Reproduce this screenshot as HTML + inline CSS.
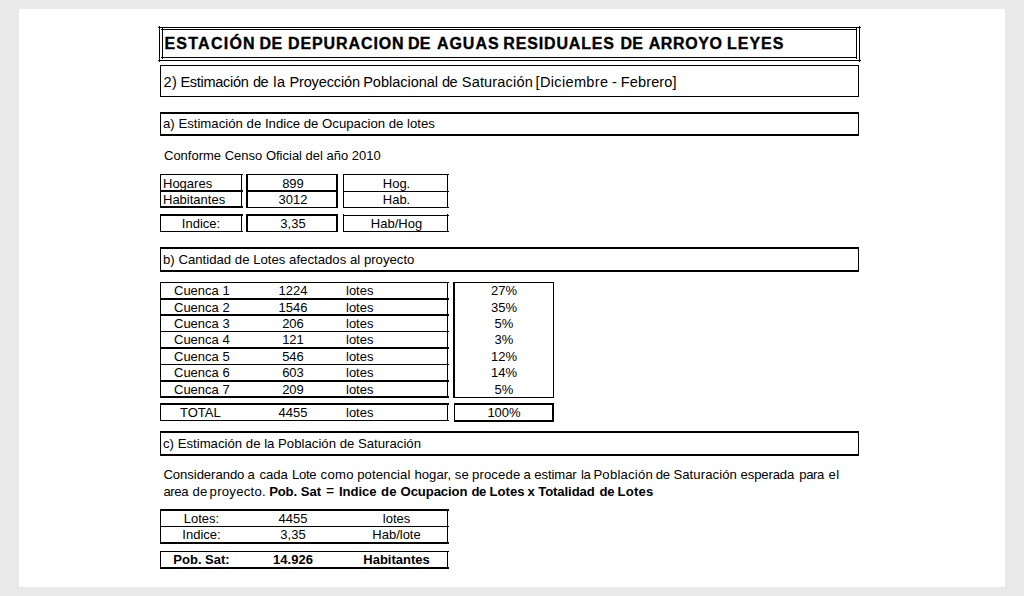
<!DOCTYPE html>
<html><head><meta charset="utf-8">
<style>
html,body{margin:0;padding:0;}
body{width:1024px;height:596px;background:#e9e9e9;position:relative;overflow:hidden;font-family:"Liberation Sans",sans-serif;color:#000;}
#page{position:absolute;left:19px;top:9px;width:986px;height:578px;background:#fff;}
.a{position:absolute;box-sizing:border-box;}
.l{position:absolute;background:#000;}
.t{position:absolute;white-space:pre;font-size:13px;line-height:15px;}
.c{text-align:center;}
.b{font-weight:bold;}
.tt{top:35px;font-size:16px;line-height:18px;-webkit-text-stroke:0.35px #000;}
</style></head><body>
<div id="page"></div>

<!-- Title double box -->
<div class="l" style="left:158px;top:27px;width:703px;height:1px;"></div>
<div class="l" style="left:158px;top:60px;width:703px;height:1px;"></div>
<div class="l" style="left:159px;top:26px;width:1px;height:36px;"></div>
<div class="l" style="left:859px;top:26px;width:1px;height:36px;"></div>
<div class="l" style="left:161px;top:29px;width:696px;height:1px;"></div>
<div class="l" style="left:161px;top:57px;width:696px;height:1px;"></div>
<div class="l" style="left:162px;top:28px;width:1px;height:31px;"></div>
<div class="l" style="left:856px;top:28px;width:1px;height:31px;"></div>
<div class="t b tt" style="left:164.4px;letter-spacing:1.25px;">ESTACIÓN</div>
<div class="t b tt" style="left:259.6px;letter-spacing:0.3px;">DE</div>
<div class="t b tt" style="left:288.0px;letter-spacing:0.9px;">DEPURACION</div>
<div class="t b tt" style="left:407.9px;letter-spacing:0.3px;">DE</div>
<div class="t b tt" style="left:436.9px;letter-spacing:0.99px;">AGUAS</div>
<div class="t b tt" style="left:503.3px;letter-spacing:0.84px;">RESIDUALES</div>
<div class="t b tt" style="left:620.5px;letter-spacing:0.3px;">DE</div>
<div class="t b tt" style="left:648.7px;letter-spacing:0.6px;">ARROYO</div>
<div class="t b tt" style="left:727.1px;letter-spacing:0.95px;">LEYES</div>

<!-- Box 2 -->
<div class="a" style="left:160px;top:65px;width:699px;height:32px;border:1px solid #000;"></div>
<!--T2-->
<div class="t" style="top:74px;font-size:14.55px;line-height:17px;left:163.60px;letter-spacing:0.200px;">2)</div>
<div class="t" style="top:74px;font-size:14.55px;line-height:17px;left:180.40px;letter-spacing:-0.289px;">Estimación</div>
<div class="t" style="top:74px;font-size:14.55px;line-height:17px;left:253.00px;letter-spacing:-0.700px;">de</div>
<div class="t" style="top:74px;font-size:14.55px;line-height:17px;left:273.20px;letter-spacing:0.500px;">la</div>
<div class="t" style="top:74px;font-size:14.55px;line-height:17px;left:289.40px;letter-spacing:-0.144px;">Proyección</div>
<div class="t" style="top:74px;font-size:14.55px;line-height:17px;left:363.20px;letter-spacing:-0.030px;">Poblacional</div>
<div class="t" style="top:74px;font-size:14.55px;line-height:17px;left:442.00px;letter-spacing:-0.700px;">de</div>
<div class="t" style="top:74px;font-size:14.55px;line-height:17px;left:461.80px;letter-spacing:0.156px;">Saturación</div>
<div class="t" style="top:74px;font-size:14.55px;line-height:17px;left:535.60px;letter-spacing:0.322px;">[Diciembre</div>
<div class="t" style="top:74px;font-size:14.55px;line-height:17px;left:612.00px;letter-spacing:0px;">-</div>
<div class="t" style="top:74px;font-size:14.55px;line-height:17px;left:620.80px;letter-spacing:0.114px;">Febrero]</div>
<!--/T2-->

<!-- Box a -->
<div class="a" style="left:160px;top:112px;width:699px;height:24px;border:1px solid #000;border-top-width:2px;border-bottom-width:2px;"></div>
<div class="t" style="left:163px;top:116px;font-size:13.2px;">a) Estimación de Indice de Ocupacion de lotes</div>

<div class="t" style="left:164px;top:148px;">Conforme Censo Oficial del año 2010</div>

<!-- Table 1 -->
<div class="l" style="left:160px;top:174px;width:83px;height:1px;"></div>
<div class="l" style="left:160px;top:190px;width:83px;height:2px;"></div>
<div class="l" style="left:160px;top:206px;width:83px;height:2px;"></div>
<div class="l" style="left:160px;top:174px;width:1px;height:34px;"></div>
<div class="l" style="left:241px;top:174px;width:1px;height:34px;"></div>
<div class="t" style="left:163px;top:176px;">Hogares</div>
<div class="t" style="left:163px;top:192px;">Habitantes</div>

<div class="l" style="left:246px;top:174px;width:92px;height:1px;"></div>
<div class="l" style="left:246px;top:190px;width:92px;height:2px;"></div>
<div class="l" style="left:246px;top:207px;width:92px;height:1px;"></div>
<div class="l" style="left:246px;top:174px;width:2px;height:34px;"></div>
<div class="l" style="left:336px;top:174px;width:2px;height:34px;"></div>
<div class="t c" style="left:249px;top:176px;width:88px;">899</div>
<div class="t c" style="left:249px;top:192px;width:88px;">3012</div>

<div class="l" style="left:343px;top:174px;width:106px;height:1px;"></div>
<div class="l" style="left:343px;top:191px;width:106px;height:1px;"></div>
<div class="l" style="left:343px;top:207px;width:106px;height:1px;"></div>
<div class="l" style="left:343px;top:174px;width:1px;height:34px;"></div>
<div class="l" style="left:447px;top:174px;width:1px;height:34px;"></div>
<div class="t c" style="left:345px;top:176px;width:103px;">Hog.</div>
<div class="t c" style="left:345px;top:192px;width:103px;">Hab.</div>

<div class="l" style="left:160px;top:214px;width:83px;height:2px;"></div>
<div class="l" style="left:160px;top:231px;width:83px;height:1px;"></div>
<div class="l" style="left:160px;top:214px;width:1px;height:18px;"></div>
<div class="l" style="left:241px;top:214px;width:1px;height:18px;"></div>
<div class="t c" style="left:161px;top:216px;width:80px;">Indice:</div>

<div class="l" style="left:246px;top:214px;width:92px;height:2px;"></div>
<div class="l" style="left:246px;top:231px;width:92px;height:1px;"></div>
<div class="l" style="left:246px;top:214px;width:2px;height:18px;"></div>
<div class="l" style="left:336px;top:214px;width:2px;height:18px;"></div>
<div class="t c" style="left:249px;top:216px;width:88px;">3,35</div>

<div class="l" style="left:343px;top:215px;width:106px;height:1px;"></div>
<div class="l" style="left:343px;top:231px;width:106px;height:1px;"></div>
<div class="l" style="left:343px;top:214px;width:1px;height:18px;"></div>
<div class="l" style="left:447px;top:214px;width:1px;height:18px;"></div>
<div class="t c" style="left:345px;top:216px;width:103px;">Hab/Hog</div>

<!-- Box b -->
<div class="a" style="left:160px;top:247px;width:699px;height:25px;border:1px solid #000;border-top-width:2px;border-bottom-width:2px;"></div>
<div class="t" style="left:163px;top:252px;font-size:13.2px;">b) Cantidad de Lotes afectados al proyecto</div>

<div class="l" style="left:160px;top:282px;width:289px;height:1px;"></div>
<div class="l" style="left:160px;top:298px;width:289px;height:2px;"></div>
<div class="l" style="left:160px;top:314px;width:289px;height:2px;"></div>
<div class="l" style="left:160px;top:331px;width:289px;height:1px;"></div>
<div class="l" style="left:160px;top:347px;width:289px;height:2px;"></div>
<div class="l" style="left:160px;top:364px;width:289px;height:1px;"></div>
<div class="l" style="left:160px;top:380px;width:289px;height:2px;"></div>
<div class="l" style="left:160px;top:396px;width:289px;height:2px;"></div>
<div class="l" style="left:160px;top:282px;width:1px;height:116px;"></div>
<div class="l" style="left:447px;top:282px;width:1px;height:116px;"></div>
<div class="l" style="left:160px;top:403px;width:289px;height:2px;"></div>
<div class="l" style="left:160px;top:420px;width:289px;height:1px;"></div>
<div class="l" style="left:160px;top:403px;width:1px;height:18px;"></div>
<div class="l" style="left:447px;top:403px;width:1px;height:18px;"></div>
<div class="l" style="left:453px;top:282px;width:101px;height:1px;"></div>
<div class="l" style="left:453px;top:397px;width:101px;height:1px;"></div>
<div class="l" style="left:453px;top:282px;width:2px;height:116px;"></div>
<div class="l" style="left:553px;top:282px;width:1px;height:116px;"></div>
<div class="l" style="left:454px;top:403px;width:100px;height:2px;"></div>
<div class="l" style="left:454px;top:420px;width:100px;height:2px;"></div>
<div class="l" style="left:454px;top:403px;width:1px;height:19px;"></div>
<div class="l" style="left:552px;top:403px;width:2px;height:19px;"></div>
<div class="t" style="left:174px;top:283px;">Cuenca 1</div>
<div class="t c" style="left:248px;top:283px;width:90px;">1224</div>
<div class="t" style="left:346px;top:283px;">lotes</div>
<div class="t c" style="left:455px;top:283px;width:98px;">27%</div>
<div class="t" style="left:174px;top:300px;">Cuenca 2</div>
<div class="t c" style="left:248px;top:300px;width:90px;">1546</div>
<div class="t" style="left:346px;top:300px;">lotes</div>
<div class="t c" style="left:455px;top:300px;width:98px;">35%</div>
<div class="t" style="left:174px;top:316px;">Cuenca 3</div>
<div class="t c" style="left:248px;top:316px;width:90px;">206</div>
<div class="t" style="left:346px;top:316px;">lotes</div>
<div class="t c" style="left:455px;top:316px;width:98px;">5%</div>
<div class="t" style="left:174px;top:332px;">Cuenca 4</div>
<div class="t c" style="left:248px;top:332px;width:90px;">121</div>
<div class="t" style="left:346px;top:332px;">lotes</div>
<div class="t c" style="left:455px;top:332px;width:98px;">3%</div>
<div class="t" style="left:174px;top:349px;">Cuenca 5</div>
<div class="t c" style="left:248px;top:349px;width:90px;">546</div>
<div class="t" style="left:346px;top:349px;">lotes</div>
<div class="t c" style="left:455px;top:349px;width:98px;">12%</div>
<div class="t" style="left:174px;top:365px;">Cuenca 6</div>
<div class="t c" style="left:248px;top:365px;width:90px;">603</div>
<div class="t" style="left:346px;top:365px;">lotes</div>
<div class="t c" style="left:455px;top:365px;width:98px;">14%</div>
<div class="t" style="left:174px;top:382px;">Cuenca 7</div>
<div class="t c" style="left:248px;top:382px;width:90px;">209</div>
<div class="t" style="left:346px;top:382px;">lotes</div>
<div class="t c" style="left:455px;top:382px;width:98px;">5%</div>
<div class="t" style="left:180px;top:405px;">TOTAL</div>
<div class="t c" style="left:248px;top:405px;width:90px;">4455</div>
<div class="t" style="left:346px;top:405px;">lotes</div>
<div class="t c" style="left:455px;top:405px;width:98px;">100%</div>

<!-- Box c -->
<div class="a" style="left:160px;top:431px;width:699px;height:25px;border:1px solid #000;border-top-width:2px;border-bottom-width:2px;"></div>
<div class="t" style="left:163px;top:436px;font-size:13.2px;">c) Estimación de la Población de Saturación</div>

<!--P1-->
<div class="t" style="top:467px;font-size:13.13px;line-height:15px;left:163.40px;letter-spacing:-0.064px;">Considerando</div>
<div class="t" style="top:467px;font-size:13.13px;line-height:15px;left:247.60px;letter-spacing:0.000px;">a</div>
<div class="t" style="top:467px;font-size:13.13px;line-height:15px;left:259.60px;letter-spacing:-0.067px;">cada</div>
<div class="t" style="top:467px;font-size:13.13px;line-height:15px;left:292.00px;letter-spacing:-0.350px;">Lote</div>
<div class="t" style="top:467px;font-size:13.13px;line-height:15px;left:320.60px;letter-spacing:0.300px;">como</div>
<div class="t" style="top:467px;font-size:13.13px;line-height:15px;left:357.20px;letter-spacing:0.087px;">potencial</div>
<div class="t" style="top:467px;font-size:13.13px;line-height:15px;left:414.40px;letter-spacing:0.060px;">hogar,</div>
<div class="t" style="top:467px;font-size:13.13px;line-height:15px;left:454.80px;letter-spacing:0.200px;">se</div>
<div class="t" style="top:467px;font-size:13.13px;line-height:15px;left:472.00px;letter-spacing:0.133px;">procede</div>
<div class="t" style="top:467px;font-size:13.13px;line-height:15px;left:523.60px;letter-spacing:0.000px;">a</div>
<div class="t" style="top:467px;font-size:13.13px;line-height:15px;left:534.20px;letter-spacing:-0.083px;">estimar</div>
<div class="t" style="top:467px;font-size:13.13px;line-height:15px;left:581.00px;letter-spacing:-0.350px;">la</div>
<div class="t" style="top:467px;font-size:13.13px;line-height:15px;left:593.40px;letter-spacing:0.225px;">Población</div>
<div class="t" style="top:467px;font-size:13.13px;line-height:15px;left:655.80px;letter-spacing:-0.300px;">de</div>
<div class="t" style="top:467px;font-size:13.13px;line-height:15px;left:673.40px;letter-spacing:0.078px;">Saturación</div>
<div class="t" style="top:467px;font-size:13.13px;line-height:15px;left:740.60px;letter-spacing:-0.157px;">esperada</div>
<div class="t" style="top:467px;font-size:13.13px;line-height:15px;left:799.20px;letter-spacing:-0.350px;">para</div>
<div class="t" style="top:467px;font-size:13.13px;line-height:15px;left:828.60px;letter-spacing:0.300px;">el</div>
<!--/P1-->
<!--P2-->
<div class="t" style="top:484px;font-size:13.13px;line-height:15px;left:163.40px;letter-spacing:-0.350px;">area</div>
<div class="t" style="top:484px;font-size:13.13px;line-height:15px;left:192.40px;letter-spacing:0.200px;">de</div>
<div class="t" style="top:484px;font-size:13.13px;line-height:15px;left:209.60px;letter-spacing:0.250px;">proyecto.</div>
<div class="t" style="top:484px;font-size:13.13px;line-height:15px;font-weight:bold;left:269.20px;letter-spacing:-0.200px;">Pob.</div>
<div class="t" style="top:484px;font-size:13.13px;line-height:15px;font-weight:bold;left:300.80px;letter-spacing:0.000px;">Sat</div>
<div class="t" style="top:484px;font-size:13.13px;line-height:15px;font-size:14px;left:326.00px;letter-spacing:0.000px;">=</div>
<div class="t" style="top:484px;font-size:13.13px;line-height:15px;font-weight:bold;left:339.00px;letter-spacing:-0.080px;">Indice</div>
<div class="t" style="top:484px;font-size:13.13px;line-height:15px;font-weight:bold;left:381.00px;letter-spacing:0.200px;">de</div>
<div class="t" style="top:484px;font-size:13.13px;line-height:15px;font-weight:bold;left:400.60px;letter-spacing:-0.125px;">Ocupacion</div>
<div class="t" style="top:484px;font-size:13.13px;line-height:15px;font-weight:bold;left:471.40px;letter-spacing:-0.350px;">de</div>
<div class="t" style="top:484px;font-size:13.13px;line-height:15px;font-weight:bold;left:489.40px;letter-spacing:0.050px;">Lotes</div>
<div class="t" style="top:484px;font-size:13.13px;line-height:15px;font-weight:bold;left:527.60px;letter-spacing:0.000px;">x</div>
<div class="t" style="top:484px;font-size:13.13px;line-height:15px;font-weight:bold;left:538.20px;letter-spacing:-0.088px;">Totalidad</div>
<div class="t" style="top:484px;font-size:13.13px;line-height:15px;font-weight:bold;left:599.60px;letter-spacing:-0.350px;">de</div>
<div class="t" style="top:484px;font-size:13.13px;line-height:15px;font-weight:bold;left:617.60px;letter-spacing:0.175px;">Lotes</div>
<!--/P2-->

<div class="l" style="left:160px;top:509px;width:289px;height:2px;"></div>
<div class="l" style="left:160px;top:526px;width:289px;height:1px;"></div>
<div class="l" style="left:160px;top:542px;width:289px;height:2px;"></div>
<div class="l" style="left:160px;top:509px;width:1px;height:35px;"></div>
<div class="l" style="left:447px;top:509px;width:1px;height:35px;"></div>
<div class="l" style="left:160px;top:551px;width:289px;height:1px;"></div>
<div class="l" style="left:160px;top:567px;width:289px;height:2px;"></div>
<div class="l" style="left:160px;top:551px;width:1px;height:18px;"></div>
<div class="l" style="left:447px;top:551px;width:1px;height:18px;"></div>
<div class="t c" style="left:161px;top:511px;width:81px;">Lotes:</div>
<div class="t c" style="left:248px;top:511px;width:90px;">4455</div>
<div class="t c" style="left:345px;top:511px;width:103px;">lotes</div>
<div class="t c" style="left:161px;top:527px;width:81px;">Indice:</div>
<div class="t c" style="left:248px;top:527px;width:90px;">3,35</div>
<div class="t c" style="left:345px;top:527px;width:103px;">Hab/lote</div>
<div class="t c b" style="left:161px;top:552px;width:81px;">Pob. Sat:</div>
<div class="t c b" style="left:248px;top:552px;width:90px;">14.926</div>
<div class="t c b" style="left:345px;top:552px;width:103px;">Habitantes</div>

</body></html>
